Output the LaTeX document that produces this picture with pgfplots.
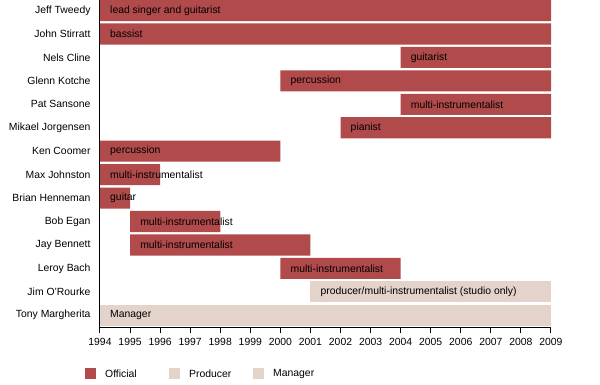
\documentclass[border=0pt]{standalone}
\usepackage{pgfplots}
\pgfplotsset{compat=1.18}
\usepackage{pgfplotstable}
\usepackage{fontspec}
\setmainfont{Liberation Sans}
\definecolor{off}{HTML}{B04A4B}
\definecolor{prod}{HTML}{E3D3CA}
% row 13 = top (Jeff Tweedy), row 0 = bottom (Tony Margherita)
\pgfplotstableread[col sep=comma]{
row,start,off,prod,man,label
13,1994,15,0,0,lead singer and guitarist
12,1994,15,0,0,bassist
11,2004,5,0,0,guitarist
10,2000,9,0,0,percussion
9,2004,5,0,0,multi-instrumentalist
8,2002,7,0,0,pianist
7,1994,6,0,0,percussion
6,1994,2,0,0,multi-instrumentalist
5,1994,1,0,0,guitar
4,1995,3,0,0,multi-instrumentalist
3,1995,6,0,0,multi-instrumentalist
2,2000,4,0,0,multi-instrumentalist
1,2001,0,8,0,producer/multi-instrumentalist (studio only)
0,1994,0,0,15,Manager
}\bands
\begin{document}
\begin{tikzpicture}[font=\fontsize{10.4bp}{12bp}\selectfont]
\useasboundingbox (-100bp,-58bp) rectangle (500bp,327bp);
\begin{axis}[
  at={(0,0)}, anchor=south west, scale only axis,
  width=451bp, height=327bp,
  xbar stacked, bar width=0.9,
  xmin=1994, xmax=2009, ymin=-0.5, ymax=13.45,
  axis x line*=bottom, axis y line*=left,
  axis line style={-, black, line width=1bp},
  xtick={1994,...,2009},
  ytick={0,...,13},
  yticklabels={Tony Margherita,Jim O'Rourke,Leroy Bach,Jay Bennett,Bob Egan,Brian Henneman,Max Johnston,Ken Coomer,Mikael Jorgensen,Pat Sansone,Glenn Kotche,Nels Cline,John Stirratt,Jeff Tweedy},
  tick align=outside, major tick length=6bp,
  x tick style={black, line width=1bp},
  y tick style={draw=none},
  /pgf/number format/assume math mode=true,
  x tick label style={/pgf/number format/1000 sep={}, yshift=-1.5bp},
  legend columns=3,
  legend style={at={(-0.0333,-0.1437)}, anchor=west, draw=none, fill=none, inner sep=0pt,
    nodes={inner sep=0pt, text width=64bp, align=left},
    /tikz/every odd column/.style={column sep=9bp}},
]
\addplot[draw=none, fill=none, forget plot] table[x=start, y=row] {\bands};
\addplot[draw=none, fill=off, legend image code/.code={\fill[off] (0bp,-5.5bp) rectangle (11bp,5.5bp);}] table[x=off, y=row] {\bands};
\addlegendentry{Official}
\addplot[draw=none, fill=prod, legend image code/.code={\fill[prod] (0bp,-5.5bp) rectangle (11bp,5.5bp);}] table[x=prod, y=row] {\bands};
\addlegendentry{Producer}
\addplot[draw=none, fill=prod, legend image code/.code={\fill[prod] (0bp,-5.5bp) rectangle (11bp,5.5bp);}] table[x=man, y=row] {\bands};
\addlegendentry{Manager}
\end{axis}
\begin{axis}[
  at={(0,0)}, anchor=south west, scale only axis,
  width=451bp, height=327bp, hide axis,
  xmin=1994, xmax=2009, ymin=-0.5, ymax=13.45,
]
\addplot[draw=none, mark=none, nodes near coords, point meta=explicit symbolic,
  every node near coord/.append style={anchor=west, xshift=6.5bp, inner sep=3.5bp, black}]
  table[x=start, y=row, meta=label] {\bands};
\end{axis}
\end{tikzpicture}
\end{document}
